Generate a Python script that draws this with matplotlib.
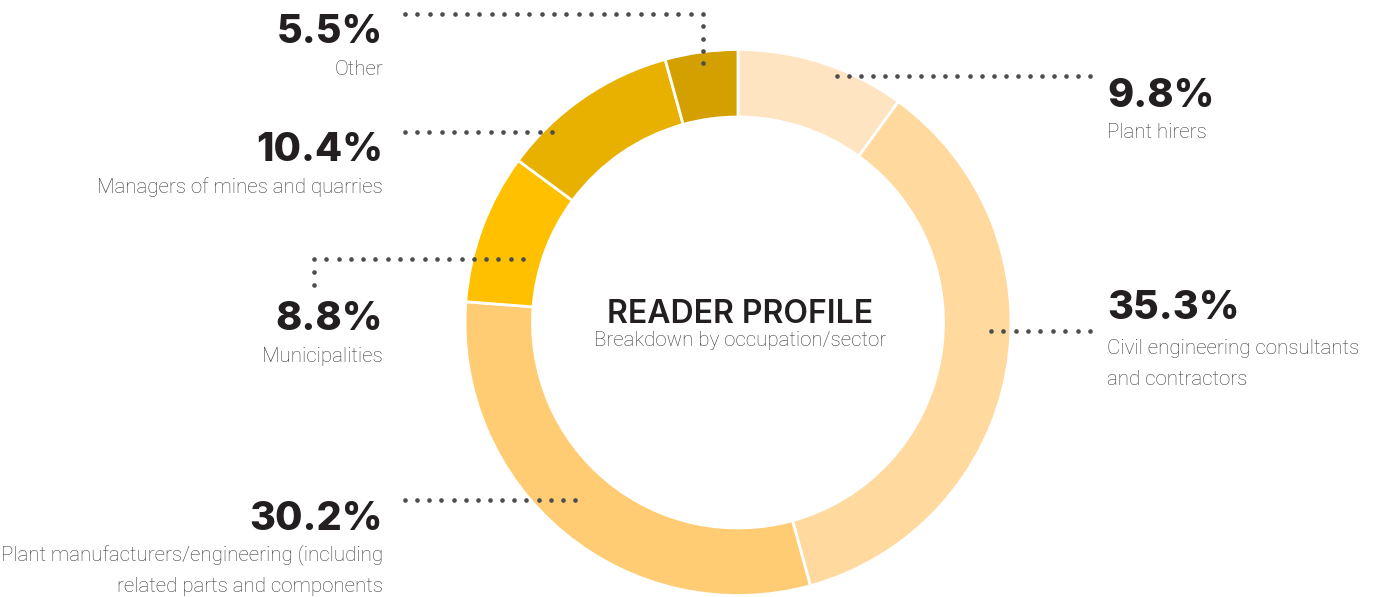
import numpy as np
import matplotlib.pyplot as plt

W, H = 1375, 597

# values printed on the chart
shares = [9.8, 35.3, 30.2, 8.8, 10.4, 5.5]
pct_text = ["9.8%", "35.3%", "30.2%", "8.8%", "10.4%", "5.5%"]
arc_pct = [10.0, 35.75, 30.5, 8.9, 10.6, 4.3]
labels = [
    ["Plant hirers"],
    ["Civil engineering consultants", "and contractors"],
    ["Plant manufacturers/engineering (including", "related parts and components"],
    ["Municipalities"],
    ["Managers of mines and quarries"],
    ["Other"],
]
colors = ["#FFE4C2", "#FFD99E", "#FFCC73", "#FFC000", "#E8B100", "#D4A000"]

# label layout (image pixel coords): x, ha, baseline of pct, baselines of label lines
text_pos = [
    (1107, "left", 107, [138]),
    (1107, "left", 319, [354, 385]),
    (383, "right", 530, [560, 592]),
    (383, "right", 330, [362]),
    (383, "right", 161, [193]),
    (383, "right", 43, [75]),
]
# leader lines as polylines (image pixel coords)
leaders = [
    [(837, 76), (1090, 76)],
    [(991, 331), (1090, 331)],
    [(405, 500), (575, 500)],
    [(523, 259), (314, 259), (314, 285)],
    [(552, 132), (405, 132)],
    [(703, 63), (703, 14), (405, 14)],
]

fig = plt.figure(figsize=(W / 100, H / 100), dpi=100)
ax = fig.add_axes([0, 0, 1, 1])

cx, cy, R, ring = 738, 322.5, 273, 67.5
ax.pie(arc_pct, colors=colors, radius=R, center=(cx, H - cy), startangle=90,
       counterclock=False,
       wedgeprops=dict(width=ring, edgecolor="white", linewidth=2))
ax.set_xlim(0, W)
ax.set_ylim(0, H)
ax.set_aspect("equal")
ax.axis("off")

step = 12.2
for path in leaders:
    pts = []
    for (x0, y0), (x1, y1) in zip(path[:-1], path[1:]):
        n = max(1, int(round(np.hypot(x1 - x0, y1 - y0) / step)))
        t = np.linspace(0, 1, n + 1)
        seg = np.column_stack([x0 + (x1 - x0) * t, y0 + (y1 - y0) * t])
        pts.append(seg if not pts else seg[1:])
    pts = np.vstack(pts)
    ax.scatter(pts[:, 0], H - pts[:, 1], s=11, color="#4D4D4F", lw=0, zorder=3)

for pct, lab, (x, ha, yb, lbs) in zip(pct_text, labels, text_pos):
    ax.text(x, H - yb, pct, ha=ha, va="baseline", fontsize=28.5,
            fontweight="heavy", family=["Inter", "Liberation Sans"],
            color="#231F20")
    for line, ly in zip(lab, lbs):
        ax.text(x, H - ly, line, ha=ha, va="baseline", fontsize=14.8,
                fontweight="light", family="Roboto", color="#3A3A3A")

ax.text(740, H - 323, "READER PROFILE", ha="center", va="baseline",
        fontsize=23, fontweight="semibold", family=["Inter", "Liberation Sans"],
        color="#231F20")
ax.text(740, H - 346, "Breakdown by occupation/sector", ha="center",
        va="baseline", fontsize=14.8, fontweight="light", family="Roboto",
        color="#3A3A3A")

fig.savefig("out.png", dpi=100)
